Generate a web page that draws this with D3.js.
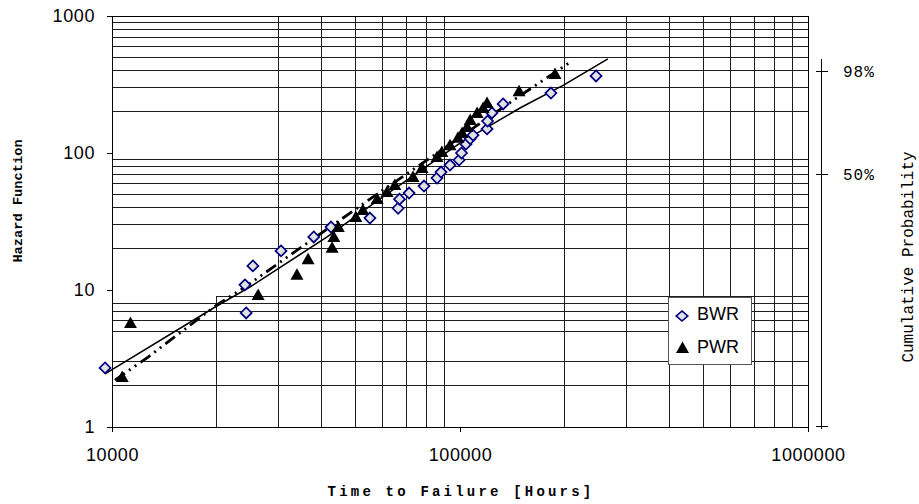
<!DOCTYPE html>
<html>
<head>
<meta charset="UTF-8">
<title>Hazard plot BWR / PWR</title>
<script src="https://d3js.org/d3.v7.min.js"></script>
<style>
    html, body {
        margin:0;
        padding:0;
        background:#fff;
    }
    .grid line {
        stroke:#1e1e1e;
        stroke-width:1;
        shape-rendering:crispEdges;
    }
    .axis path, .axis line {
        stroke:#000;
        shape-rendering:crispEdges;
    }
    .axis text {
        font-family:"Liberation Sans", Arial, sans-serif;
        font-size:18px;
        letter-spacing:0.6px;
        fill:#000;
    }
</style>
</head>
<body>
<div id="chart"></div>
<script>
    // BWR points (time to failure in hours, hazard in %)
    const bwrTime   = [9550, 24100, 24300, 25400, 30600, 38000, 42600, 55100, 66400, 67000,
                       71400, 78800, 85900, 88200, 93600, 99400, 101000, 104000, 107000, 109000,
                       119600, 120000, 123500, 133000, 182500, 246000];
    const bwrHazard = [2.7, 10.9, 6.8, 15.0, 19.3, 24.4, 28.8, 33.5, 39.5, 46.0,
                       51, 57.4, 65.7, 72.6, 81.7, 88.9, 100, 116, 127, 135,
                       150, 171, 196, 228, 274, 365];

    // PWR points
    const pwrTime   = [10700, 11300, 26300, 34000, 36600, 42900, 43400, 44700, 50200, 52600,
                       57800, 61700, 65000, 73300, 77800, 85900, 88700, 93600, 98700, 101400,
                       104800, 107000, 112000, 116500, 119600, 147800, 187500];
    const pwrHazard = [2.32, 5.74, 9.2, 12.9, 16.8, 20.3, 24.4, 28.8, 34.1, 38.4,
                       46.2, 51.9, 58.4, 66.8, 77.7, 93.5, 101.7, 114, 129, 140,
                       155, 174, 196, 213, 232, 282, 377];

    // fitted lines
    const bwrFitTime   = [9550, 20000, 24900, 41500, 58900, 100000, 148700, 199000, 266000];
    const bwrFitHazard = [2.44, 7.64, 10.5, 24.4, 46.2, 118, 213, 314, 486];
    const pwrFitTime   = [10200, 12700, 20000, 24100, 33100, 60100, 82000, 146800, 209800];
    const pwrFitHazard = [2.2, 3.24, 7.77, 10.5, 18.6, 53.7, 91.9, 256, 469];

    const xTicks = [10000, 100000, 1000000];
    const yTicks = [1, 10, 100, 1000];
    const xGrid = [30000, 40000, 50000, 60000, 70000, 80000, 90000,
                   200000, 300000, 400000, 500000, 600000, 700000, 800000, 900000];
    const yGrid = [2, 3, 5, 6, 7, 8,
                   20, 30, 40, 50, 60, 70, 80, 90,
                   200, 300, 400, 500, 600, 700, 800, 900];
    // the two lines that only cover part of the plot in the original
    const partialX = {value: 20000, from: 1, to: 9};
    const partialY = {value: 9, from: 20000, to: 1000000};

    const probTicks  = [0.01, 0.5, 0.98];
    const probLabels = ["", "50%", "98%"];
    const probRange  = [0.01, 0.992];

    const seriesNames = ["BWR", "PWR"];

    const width = 919, height = 504;
    const svg = d3.select("#chart").append("svg")
        .attr("width", width)
        .attr("height", height);

    const x = d3.scaleLog().domain([1e4, 1e6]).range([112, 808]);
    const y = d3.scaleLog().domain([1, 1000]).range([427, 16]);
    // hazard in % -> cumulative probability
    const yProb = p => y(-100 * Math.log(1 - p));

    // grid
    const grid = svg.append("g").attr("class", "grid");
    grid.selectAll(".gx").data(xGrid).join("line")
        .attr("x1", d => x(d)).attr("x2", d => x(d))
        .attr("y1", y(1)).attr("y2", y(1000));
    grid.selectAll(".gy").data(yGrid).join("line")
        .attr("class", "gy")
        .attr("x1", x(1e4)).attr("x2", x(1e6))
        .attr("y1", d => y(d)).attr("y2", d => y(d));
    grid.append("line")
        .attr("x1", x(partialX.value)).attr("x2", x(partialX.value))
        .attr("y1", y(partialX.from)).attr("y2", y(partialX.to));
    grid.append("line")
        .attr("x1", x(partialY.from)).attr("x2", x(partialY.to))
        .attr("y1", y(partialY.value)).attr("y2", y(partialY.value));
    grid.append("rect")
        .attr("x", x(1e4)).attr("y", y(1000))
        .attr("width", x(1e6) - x(1e4)).attr("height", y(1) - y(1000))
        .attr("fill", "none").attr("stroke", "#000")
        .attr("shape-rendering", "crispEdges");

    // axes
    svg.append("g").attr("class", "axis")
        .attr("transform", `translate(0,${y(1)})`)
        .call(d3.axisBottom(x).tickValues(xTicks).tickFormat(d3.format("d"))
            .tickSize(5).tickSizeOuter(0).tickPadding(16));
    svg.append("g").attr("class", "axis")
        .attr("transform", `translate(${x(1e4)},0)`)
        .call(d3.axisLeft(y).tickValues(yTicks).tickFormat(d3.format("d"))
            .tickSize(5).tickSizeOuter(0).tickPadding(12));

    // right probability axis
    const axisX = 821;
    const right = svg.append("g");
    right.append("line")
        .attr("x1", axisX).attr("x2", axisX)
        .attr("y1", yProb(probRange[1])).attr("y2", yProb(probRange[0]) + 2)
        .attr("stroke", "#000").attr("shape-rendering", "crispEdges");
    right.selectAll(".pt").data(probTicks).join("line")
        .attr("x1", axisX - 5).attr("x2", axisX + 7)
        .attr("y1", d => yProb(d)).attr("y2", d => yProb(d))
        .attr("stroke", "#000").attr("shape-rendering", "crispEdges");
    right.selectAll("text").data(probTicks).join("text")
        .attr("x", axisX + 22)
        .attr("y", d => yProb(d))
        .attr("dy", "0.35em")
        .attr("font-family", "'Liberation Mono', 'Courier New', monospace")
        .attr("font-size", 16)
        .attr("letter-spacing", 1)
        .text((d, i) => probLabels[i]);

    // fit lines
    const line = d3.line().x(d => x(d[0])).y(d => y(d[1]));
    svg.append("path")
        .datum(bwrFitTime.map((t, i) => [t, bwrFitHazard[i]]))
        .attr("d", line)
        .attr("fill", "none").attr("stroke", "#000").attr("stroke-width", 1.6);
    svg.append("path")
        .datum(pwrFitTime.map((t, i) => [t, pwrFitHazard[i]]))
        .attr("d", line)
        .attr("fill", "none").attr("stroke", "#000").attr("stroke-width", 2.8)
        .attr("stroke-dasharray", "12,5,2,5,2,5");

    // markers
    const diamond = "M0,-5.5L5.5,0L0,5.5L-5.5,0Z";
    const triangle = "M0,-6.5L6.5,5L-6.5,5Z";

    svg.append("g").selectAll("path")
        .data(bwrTime.map((t, i) => [t, bwrHazard[i]]))
        .join("path")
        .attr("d", diamond)
        .attr("transform", d => `translate(${x(d[0])},${y(d[1])})`)
        .attr("fill", "#e2e2e2").attr("stroke", "#000080").attr("stroke-width", 1.7);

    svg.append("g").selectAll("path")
        .data(pwrTime.map((t, i) => [t, pwrHazard[i]]))
        .join("path")
        .attr("d", triangle)
        .attr("transform", d => `translate(${x(d[0])},${y(d[1])})`)
        .attr("fill", "#000");

    // legend
    const lg = svg.append("g").attr("transform", "translate(668,297)");
    lg.append("rect")
        .attr("width", 83).attr("height", 67)
        .attr("fill", "#fff").attr("stroke", "#555")
        .attr("shape-rendering", "crispEdges");
    lg.append("path").attr("d", diamond)
        .attr("transform", "translate(14,19) scale(1.05,0.9)")
        .attr("fill", "#e2e2e2").attr("stroke", "#000080").attr("stroke-width", 1.7);
    lg.append("path").attr("d", triangle)
        .attr("transform", "translate(14.5,51)")
        .attr("fill", "#000");
    lg.selectAll("text").data(seriesNames).join("text")
        .attr("x", 29)
        .attr("y", (d, i) => 22.5 + i * 33)
        .attr("font-family", "'Liberation Sans', Arial, sans-serif")
        .attr("font-size", 18)
        .text(d => d);

    // titles
    svg.append("text")
        .attr("transform", "translate(17,201) rotate(-90)")
        .attr("text-anchor", "middle").attr("dy", "0.35em")
        .attr("font-family", "'Liberation Mono', 'Courier New', monospace")
        .attr("font-weight", "bold").attr("font-size", 13.7)
        .text("Hazard Function");
    svg.append("text")
        .attr("x", 461).attr("y", 491)
        .attr("text-anchor", "middle").attr("dy", "0.35em")
        .attr("font-family", "'Liberation Mono', 'Courier New', monospace")
        .attr("font-weight", "bold").attr("font-size", 14)
        .attr("letter-spacing", 3.2)
        .text("Time to Failure [Hours]");
    svg.append("text")
        .attr("transform", "translate(907,257) rotate(-90)")
        .attr("text-anchor", "middle").attr("dy", "0.35em")
        .attr("font-family", "'Liberation Mono', 'Courier New', monospace")
        .attr("font-size", 16)
        .text("Cumulative Probability");
</script>
</body>
</html>
